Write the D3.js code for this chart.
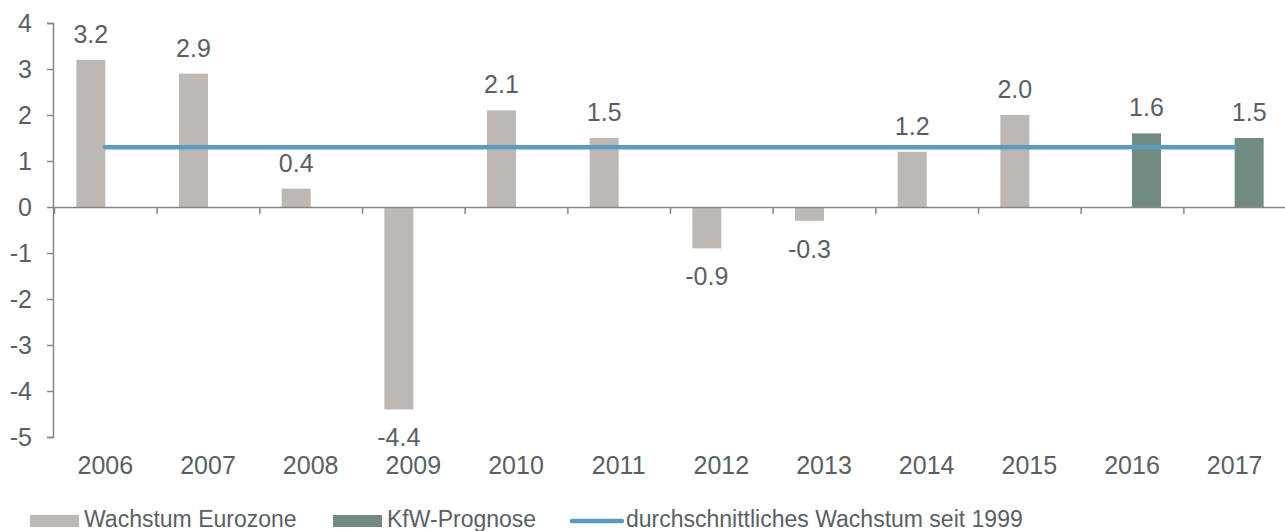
<!DOCTYPE html>
<html>
<head>
<meta charset="utf-8">
<script src="https://cdn.jsdelivr.net/npm/d3@7"></script>
<style>
  body { margin: 0; background: #fff; }
  svg { display: block; font-family: "Liberation Sans", Arial, sans-serif; }
</style>
</head>
<body>
<svg id="chart" width="1285" height="531"></svg>
<script>
// Data
const years = ["2006", "2007", "2008", "2009", "2010", "2011", "2012", "2013", "2014", "2015", "2016", "2017"];
const growth = [3.2, 2.9, 0.4, -4.4, 2.1, 1.5, -0.9, -0.3, 1.2, 2.0, null, null];
const forecast = [null, null, null, null, null, null, null, null, null, null, 1.6, 1.5];
const average = 1.3;
const yTicks = [-5, -4, -3, -2, -1, 0, 1, 2, 3, 4];
const seriesNames = ["Wachstum Eurozone", "KfW-Prognose", "durchschnittliches Wachstum seit 1999"];

const colors = { growth: "#bdb8b3", forecast: "#718b7e", line: "#5a9bbf", text: "#595f64", axis: "#868686" };

const svg = d3.select("#chart");

const x = d3.scaleBand().domain(years).range([54, 1286]).paddingInner(0).paddingOuter(0);
const xSub = d3.scaleBand().domain(["growth", "forecast"]).range([0, x.bandwidth()]).paddingInner(0).paddingOuter(0.77);
const y = d3.scaleLinear().domain([-5, 4]).range([437, 23]);

// Bars
const rows = years.map((yr, i) => ({ year: yr, growth: growth[i], forecast: forecast[i] }));
const bars = [];
rows.forEach(r => {
  ["growth", "forecast"].forEach(k => {
    if (r[k] !== null) bars.push({ year: r.year, key: k, value: r[k] });
  });
});

svg.append("g").selectAll("rect")
  .data(bars)
  .join("rect")
  .attr("x", d => x(d.year) + xSub(d.key))
  .attr("width", xSub.bandwidth())
  .attr("y", d => y(Math.max(0, d.value)))
  .attr("height", d => Math.abs(y(d.value) - y(0)))
  .attr("fill", d => colors[d.key]);

// Y axis
const yAxis = svg.append("g")
  .attr("transform", "translate(53,0)")
  .call(d3.axisLeft(y).tickValues(yTicks).tickSize(6).tickPadding(15).tickFormat(d3.format("d")));
yAxis.select(".domain").attr("stroke", colors.axis).attr("stroke-width", 1.5);
yAxis.selectAll(".tick line").attr("stroke", colors.axis).attr("stroke-width", 1.5);
yAxis.selectAll(".tick text").attr("fill", colors.text).style("font-size", "25px")
  .text(d => d < 0 ? "-" + Math.abs(d) : d);

// X axis at zero with ticks at category boundaries
const xb = d3.scaleLinear().domain([0, years.length]).range(x.range());
const xAxis = svg.append("g")
  .attr("transform", `translate(0,${y(0)})`)
  .call(d3.axisBottom(xb).tickValues(d3.range(0, years.length)).tickSize(7).tickSizeOuter(0).tickFormat(""));
xAxis.select(".domain").attr("stroke", colors.axis).attr("stroke-width", 1.5);
xAxis.selectAll(".tick line").attr("stroke", colors.axis).attr("stroke-width", 1.5);

// Category labels
svg.append("g").selectAll("text")
  .data(years)
  .join("text")
  .attr("x", d => x(d) + x.bandwidth() / 2)
  .attr("y", 474)
  .attr("text-anchor", "middle")
  .attr("fill", colors.text)
  .style("font-size", "25px")
  .text(d => d);

// Average line
const line = d3.line().x(d => x(d) + x.bandwidth() / 2).y(() => y(average));
svg.append("path")
  .datum([years[0], years[years.length - 1]])
  .attr("d", line)
  .attr("fill", "none")
  .attr("stroke", colors.line)
  .attr("stroke-width", 4.5)
  .attr("stroke-linecap", "round");

// Value labels
svg.append("g").selectAll("text")
  .data(bars)
  .join("text")
  .attr("x", d => x(d.year) + xSub(d.key) + xSub.bandwidth() / 2)
  .attr("y", d => d.value >= 0 ? y(d.value) - 17 : y(d.value) + 37)
  .attr("text-anchor", "middle")
  .attr("fill", colors.text)
  .style("font-size", "25px")
  .text(d => d3.format(".1f")(d.value).replace("−", "-"));

// Legend
const legend = svg.append("g");
const lg = [
  { name: seriesNames[0], type: "rect", color: colors.growth, x: 30 },
  { name: seriesNames[1], type: "rect", color: colors.forecast, x: 333 },
  { name: seriesNames[2], type: "line", color: colors.line, x: 570 }
];
lg.forEach(d => {
  if (d.type === "rect") {
    legend.append("rect").attr("x", d.x).attr("y", 515).attr("width", 49).attr("height", 12).attr("fill", d.color);
    legend.append("text").attr("x", d.x + 54).attr("y", 527).attr("fill", colors.text).style("font-size", "23px").text(d.name);
  } else {
    legend.append("line").attr("x1", d.x + 2).attr("x2", d.x + 52).attr("y1", 521).attr("y2", 521)
      .attr("stroke", d.color).attr("stroke-width", 4.5).attr("stroke-linecap", "round");
    legend.append("text").attr("x", d.x + 56).attr("y", 527).attr("fill", colors.text).style("font-size", "23px").text(d.name);
  }
});
</script>
</body>
</html>
